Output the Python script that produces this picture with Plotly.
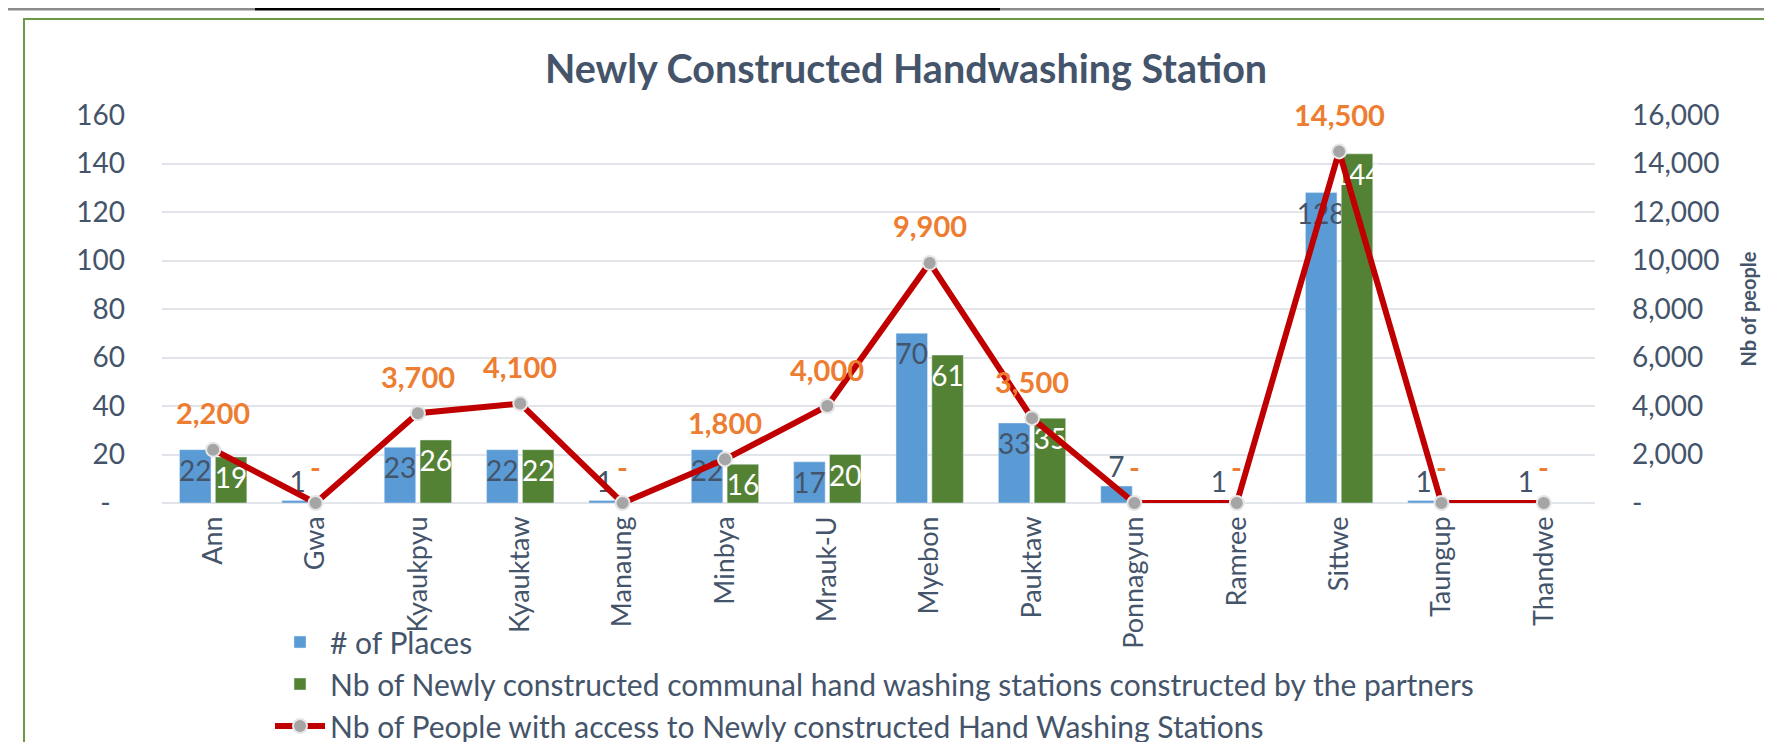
import plotly.graph_objects as go

districts = [
    "Ann", "Gwa", "Kyaukpyu", "Kyauktaw", "Manaung", "Minbya", "Mrauk-U",
    "Myebon", "Pauktaw", "Ponnagyun", "Ramree", "Sittwe", "Taungup", "Thandwe",
]
places = [22, 1, 23, 22, 1, 22, 17, 70, 33, 7, 1, 128, 1, 1]
stations = [19, 0, 26, 22, 0, 16, 20, 61, 35, 0, 0, 144, 0, 0]
people = [2200, 0, 3700, 4100, 0, 1800, 4000, 9900, 3500, 0, 0, 14500, 0, 0]

left_ticks = [0, 20, 40, 60, 80, 100, 120, 140, 160]
left_labels = ["-\u00a0\u00a0", "20", "40", "60", "80", "100", "120", "140", "160"]
right_ticks = [0, 2000, 4000, 6000, 8000, 10000, 12000, 14000, 16000]
right_labels = ["-", "2,000", "4,000", "6,000", "8,000", "10,000", "12,000", "14,000", "16,000"]

_TEXT = "#44546a"
_BLUE = "#5b9bd5"
_GREEN = "#548235"
_RED = "#c00000"
_ORANGE = "#ed7d31"
_GRID = "#e1e5ea"
_FONT = "Lato, sans-serif"

W, H = 1772, 742
OFF = 8  # page body margin in front of the plot div
# plot area wanted on screen: x 162..1595, y 115..503
L, T = 162 - OFF, 115 - OFF
R, B = W - (1595 - OFF), H - (503 - OFF)


def _fmt(v):
    return f"{v:,}" if v else "-"


def px(p):
    return (p - OFF - L) / (W - L - R)


def py(p):
    return (H - B - (p - OFF)) / (H - T - B)


fig = go.Figure()
fig.add_trace(
    go.Bar(
        x=districts,
        y=places,
        name="# of Places",
        marker={"color": _BLUE},
        text=[str(v) for v in places],
        textposition=["inside" if v >= 10 else "outside" for v in places],
        insidetextanchor="end",
        textangle=0,
        constraintext="none",
        insidetextfont={"color": _TEXT, "size": 28},
        outsidetextfont={"color": _TEXT, "size": 28},
        cliponaxis=False,
        legendgroup="a",
    )
)
fig.add_trace(
    go.Bar(
        x=districts,
        y=stations,
        name="Nb of Newly constructed communal hand washing stations constructed by the partners",
        marker={"color": _GREEN},
        text=[str(v) if v else "" for v in stations],
        textposition="inside",
        insidetextanchor="end",
        textangle=0,
        constraintext="none",
        insidetextfont={"color": "white", "size": 28},
        cliponaxis=False,
        legendgroup="b",
    )
)
fig.add_trace(
    go.Scatter(
        x=districts,
        y=people,
        yaxis="y2",
        mode="lines+markers",
        name="Nb of People with access to Newly constructed Hand Washing Stations",
        line={"color": _RED, "width": 6},
        marker={"color": "#a5a5a5", "size": 14, "line": {"color": "#e6e6e6", "width": 2}},
        cliponaxis=False,
        legendgroup="c",
    )
)

# orange data labels above the line points
for name, val in zip(districts, people):
    fig.add_annotation(
        x=name,
        y=val,
        yref="y2",
        text=_fmt(val),
        showarrow=False,
        yshift=37,
        font={"color": _ORANGE, "size": 29, "family": _FONT, "weight": "bold"},
    )

# chart frame and page lines (outside the plot area)
fig.add_shape(
    type="rect", xref="paper", yref="paper",
    x0=px(24), x1=px(1800), y0=py(19), y1=py(800),
    line={"color": "#6a9a45", "width": 2}, layer="below",
)
for x0, x1, col in [(0, 255, "#8c8c8c"), (255, 1000, "#000000"), (1000, 1790, "#8c8c8c")]:
    fig.add_shape(
        type="line", xref="paper", yref="paper",
        x0=px(x0), x1=px(x1), y0=py(OFF + 1), y1=py(OFF + 1),
        line={"color": col, "width": 3},
    )

fig.update_layout(
    width=W,
    height=H,
    autosize=False,
    margin={"l": L, "r": R, "t": T, "b": B, "autoexpand": False},
    paper_bgcolor="white",
    plot_bgcolor="white",
    font={"family": _FONT, "color": _TEXT, "size": 25},
    title={
        "text": "<b>Newly Constructed Handwashing Station</b>",
        "font": {"size": 39.5, "color": _TEXT, "family": _FONT},
        "x": px(906),
        "xref": "paper",
        "xanchor": "center",
        "y": 1 - (69 - OFF) / H,
        "yanchor": "middle",
    },
    barmode="group",
    bargap=0.3,
    bargroupgap=0.12,
    showlegend=True,
    legend={
        "orientation": "v",
        "xref": "container",
        "yref": "container",
        "x": (270 - OFF) / W,
        "y": 1 - (616 - OFF) / H,
        "xanchor": "left",
        "yanchor": "top",
        "font": {"size": 30, "color": _TEXT, "family": _FONT},
        "bgcolor": "rgba(0,0,0,0)",
        "itemwidth": 50,
        "tracegroupgap": 3,
        "traceorder": "normal",
    },
    xaxis={
        "range": [-0.5, len(districts) - 0.5],
        "tickangle": -90,
        "tickfont": {"size": 27, "color": _TEXT},
        "showgrid": False,
        "showline": False,
        "ticks": "",
        "ticklabelstandoff": 7,
        "automargin": False,
    },
    yaxis={
        "range": [0, 160],
        "tickvals": left_ticks,
        "ticktext": left_labels,
        "tickfont": {"size": 28, "color": _TEXT},
        "gridcolor": _GRID,
        "gridwidth": 2,
        "zeroline": True,
        "zerolinecolor": _GRID,
        "zerolinewidth": 2,
        "showline": False,
        "ticks": "",
        "ticklabelstandoff": 36,
        "automargin": False,
    },
    yaxis2={
        "overlaying": "y",
        "side": "right",
        "range": [0, 16000],
        "tickvals": right_ticks,
        "ticktext": right_labels,
        "tickfont": {"size": 28, "color": _TEXT},
        "showgrid": False,
        "zeroline": False,
        "showline": False,
        "ticks": "",
        "ticklabelstandoff": 36,
        "title": {
            "text": "<b>Nb of people</b>",
            "font": {"size": 20, "color": _TEXT},
            "standoff": 23,
        },
        "automargin": False,
    },
)

fig.write_html("out.html")
